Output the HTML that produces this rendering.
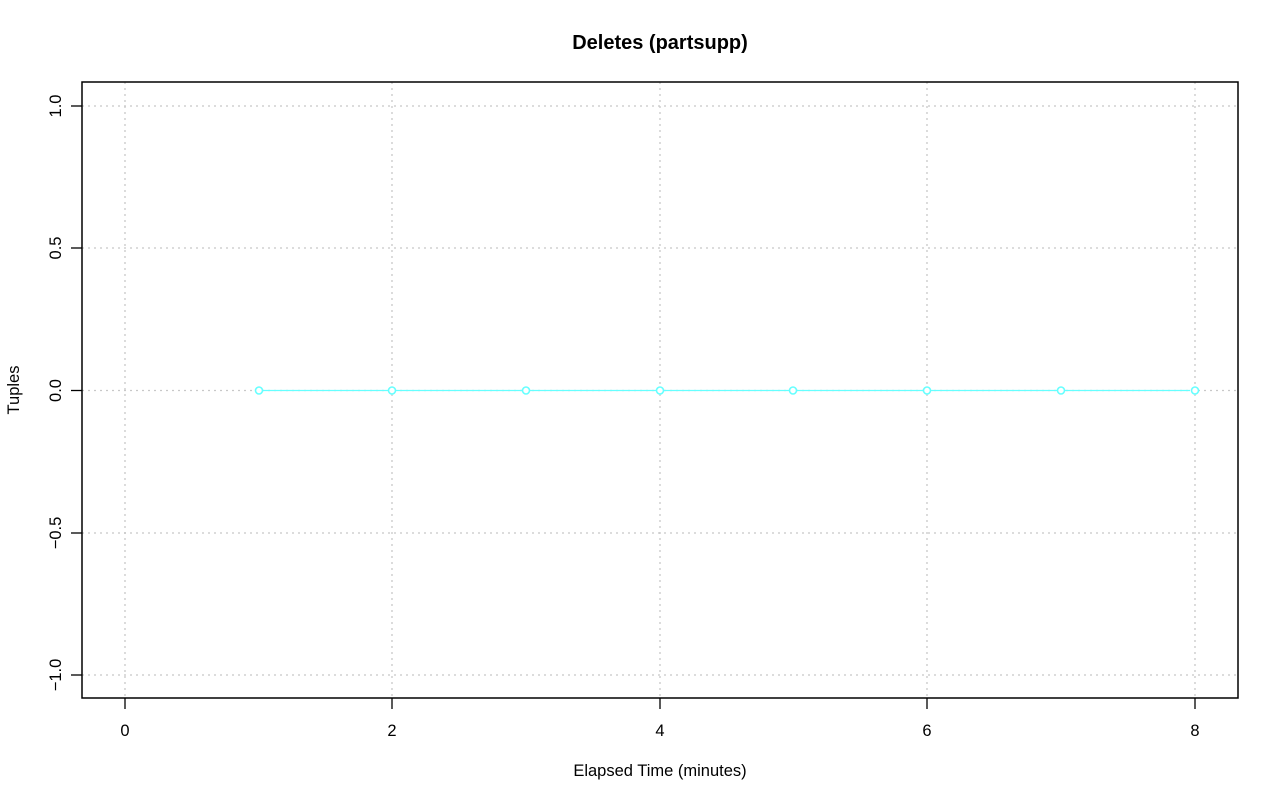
<!DOCTYPE html>
<html><head><style>body{margin:0;background:#fff}svg{display:block}</style></head><body>
<svg width="1280" height="801" xmlns="http://www.w3.org/2000/svg" font-family="Liberation Sans, sans-serif">
<rect width="1280" height="801" fill="#fff"/>
<text x="660" y="49" text-anchor="middle" font-weight="bold" font-size="20">Deletes (partsupp)</text>
<g stroke="#c8c8c8" stroke-dasharray="2,4" stroke-width="1.3">
<line x1="125" y1="82" x2="125" y2="698"/><line x1="392" y1="82" x2="392" y2="698"/><line x1="660" y1="82" x2="660" y2="698"/><line x1="927" y1="82" x2="927" y2="698"/><line x1="1195" y1="82" x2="1195" y2="698"/>
<line x1="82" y1="106" x2="1238" y2="106"/><line x1="82" y1="248" x2="1238" y2="248"/><line x1="82" y1="390.5" x2="1238" y2="390.5"/><line x1="82" y1="533" x2="1238" y2="533"/><line x1="82" y1="675" x2="1238" y2="675"/>
</g>
<line x1="263" y1="390.5" x2="1190" y2="390.5" stroke="#66ffff" stroke-width="1.3"/>
<g fill="#fff" stroke="#66ffff" stroke-width="1.6">
<circle cx="259" cy="390.5" r="3.5"/><circle cx="392" cy="390.5" r="3.5"/><circle cx="526" cy="390.5" r="3.5"/><circle cx="660" cy="390.5" r="3.5"/><circle cx="793" cy="390.5" r="3.5"/><circle cx="927" cy="390.5" r="3.5"/><circle cx="1061" cy="390.5" r="3.5"/><circle cx="1195" cy="390.5" r="3.5"/>
</g>
<rect x="82" y="82" width="1156" height="616" fill="none" stroke="#000" stroke-width="1.5"/>
<g stroke="#000" stroke-width="1.3">
<line x1="125" y1="698" x2="125" y2="709"/><line x1="392" y1="698" x2="392" y2="709"/><line x1="660" y1="698" x2="660" y2="709"/><line x1="927" y1="698" x2="927" y2="709"/><line x1="1195" y1="698" x2="1195" y2="709"/>
<line x1="71" y1="106" x2="82" y2="106"/><line x1="71" y1="248" x2="82" y2="248"/><line x1="71" y1="390.5" x2="82" y2="390.5"/><line x1="71" y1="533" x2="82" y2="533"/><line x1="71" y1="675" x2="82" y2="675"/>
</g>
<g font-size="16.5" text-anchor="middle">
<text x="125" y="736">0</text><text x="392" y="736">2</text><text x="660" y="736">4</text><text x="927" y="736">6</text><text x="1195" y="736">8</text>
<text transform="translate(61,106) rotate(-90)">1.0</text>
<text transform="translate(61,248) rotate(-90)">0.5</text>
<text transform="translate(61,390.5) rotate(-90)">0.0</text>
<text transform="translate(61,533) rotate(-90)">−0.5</text>
<text transform="translate(61,675) rotate(-90)">−1.0</text>
<text x="660" y="776">Elapsed Time (minutes)</text>
<text transform="translate(19,390) rotate(-90)">Tuples</text>
</g>
</svg>
</body></html>
